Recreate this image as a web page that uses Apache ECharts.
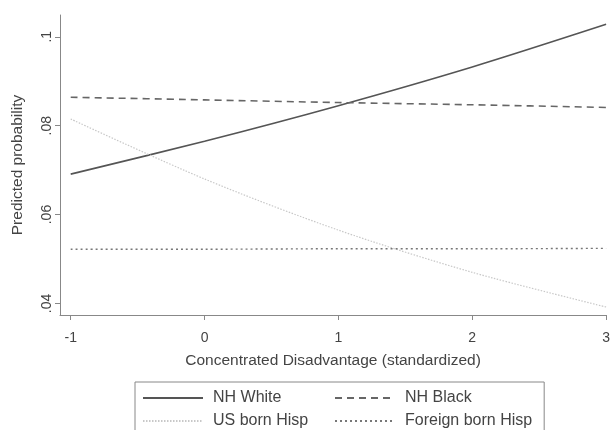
<!DOCTYPE html>
<html>
<head>
<meta charset="utf-8">
<script src="https://cdn.jsdelivr.net/npm/echarts@6/dist/echarts.min.js"></script>
<style>html,body{margin:0;padding:0;background:#fff}#c{width:613px;height:430px}</style>
</head>
<body>
<div id="c"></div>
<script>
const xValues = [-1, 0, 1, 2, 3];
const nhWhite = [0.0691, 0.0765, 0.0845, 0.0932, 0.1028];
const nhBlack = [0.0864, 0.0858, 0.0852, 0.0847, 0.0841];
const usBornHisp = [0.0815, 0.0680, 0.0565, 0.0470, 0.0392];
const foreignBornHisp = [0.0522, 0.0522, 0.0523, 0.0523, 0.0524];
const xTicks = [-1, 0, 1, 2, 3];
const yTicks = [0.04, 0.06, 0.08, 0.1];

const pairs = arr => xValues.map((x, i) => [x, arr[i]]);
const font = 'Liberation Sans, Arial, sans-serif';
const chart = echarts.init(document.getElementById('c'), null, {renderer: 'canvas'});
chart.setOption({
  animation: false,
  backgroundColor: '#fff',
  grid: {left: 60, right: 6, top: 15, bottom: 115},
  xAxis: {
    type: 'value', min: -1.08, max: 3,
    name: 'Concentrated Disadvantage (standardized)',
    nameLocation: 'middle', nameGap: 38,
    nameTextStyle: {fontFamily: font, fontSize: 15.5, color: '#444'},
    axisLine: {show: true, onZero: false, lineStyle: {color: '#888', width: 1}},
    axisTick: {show: true, length: 5, customValues: xTicks, lineStyle: {color: '#888'}},
    axisLabel: {customValues: xTicks, margin: 16, fontFamily: font, fontSize: 14, color: '#444',
      formatter: v => String(v)},
    splitLine: {show: false}
  },
  yAxis: {
    type: 'value', min: 0.0374, max: 0.1049,
    name: 'Predicted probability',
    nameLocation: 'middle', nameGap: 34,
    nameTextStyle: {fontFamily: font, fontSize: 15.5, color: '#444'},
    axisLine: {show: true, onZero: false, lineStyle: {color: '#888', width: 1}},
    axisTick: {show: true, length: 5, customValues: yTicks, lineStyle: {color: '#888'}},
    axisLabel: {customValues: yTicks, rotate: 90, margin: 6, fontFamily: font, fontSize: 14, color: '#444',
      formatter: v => String(+v.toFixed(4)).replace(/^0/, '')},
    splitLine: {show: false}
  },
  legend: {
    left: 135, top: 382, width: 400,
    orient: 'horizontal',
    padding: [8, 12, 12, 7],
    borderColor: '#888', borderWidth: 1,
    itemWidth: 60, itemHeight: 12, itemGap: 7,
    itemStyle: {opacity: 0},
    formatter: '{a|{name}}',
    textStyle: {fontFamily: font, fontSize: 16, color: '#444',
      rich: {a: {fontFamily: font, fontSize: 16, color: '#444', width: 114, lineHeight: 16, padding: [0, 0, 0, 5]}}},
    data: ['NH White', 'NH Black', 'US born Hisp', 'Foreign born Hisp']
  },
  series: [
    {name: 'NH White', type: 'line', data: pairs(nhWhite), smooth: 0.3, symbol: 'none',
      lineStyle: {color: '#555', width: 1.6, type: 'solid'}, itemStyle: {color: '#555'}},
    {name: 'NH Black', type: 'line', data: pairs(nhBlack), smooth: 0.3, symbol: 'none',
      lineStyle: {color: '#666', width: 1.6, type: [7, 5]}, itemStyle: {color: '#666'}},
    {name: 'US born Hisp', type: 'line', data: pairs(usBornHisp), smooth: 0.3, symbol: 'none',
      lineStyle: {color: '#c8c8c8', width: 1.2, type: [1.5, 1.5]}, itemStyle: {color: '#c8c8c8'}},
    {name: 'Foreign born Hisp', type: 'line', data: pairs(foreignBornHisp), smooth: 0.3, symbol: 'none',
      lineStyle: {color: '#777', width: 1.4, type: [2, 3]}, itemStyle: {color: '#777'}}
  ]
});
</script>
</body>
</html>
